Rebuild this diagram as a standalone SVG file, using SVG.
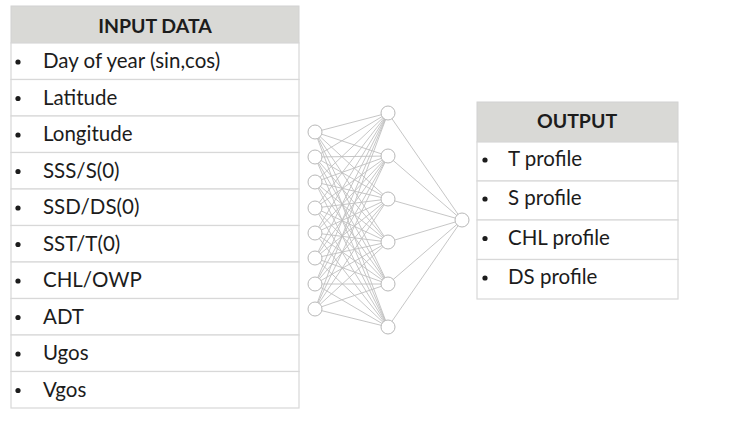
<svg xmlns="http://www.w3.org/2000/svg" width="732" height="427" viewBox="0 0 732 427">
<style>
.hdr{fill:#d9d9d6;stroke:#d2d2d2;stroke-width:1}
.row{fill:#ffffff;stroke:#d8d8d8;stroke-width:1.2}
.t{font-family:Lato,"Open Sans",sans-serif;font-size:20.5px;fill:#1c1c1c}
.h{font-family:Lato,"Open Sans",sans-serif;font-size:19.5px;font-weight:bold;fill:#1c1c1c;text-anchor:middle}
.b{fill:#1c1c1c}
.c{stroke:#bfbfbf;stroke-width:0.9;fill:none}
.n{fill:#ffffff;stroke:#b8b8b8;stroke-width:1}
</style>
<rect x="0" y="0" width="732" height="427" fill="#ffffff"/>
<g id="input-table">
<rect class="hdr" x="11" y="6" width="288" height="37"/>
<text class="h" x="155" y="32.5">INPUT DATA</text>
<rect class="row" x="11" y="43" width="288" height="36.5"/>
<rect class="row" x="11" y="79.5" width="288" height="36.5"/>
<rect class="row" x="11" y="116" width="288" height="36.5"/>
<rect class="row" x="11" y="152.5" width="288" height="36.5"/>
<rect class="row" x="11" y="189" width="288" height="36.5"/>
<rect class="row" x="11" y="225.5" width="288" height="36.5"/>
<rect class="row" x="11" y="262" width="288" height="36.5"/>
<rect class="row" x="11" y="298.5" width="288" height="36.5"/>
<rect class="row" x="11" y="335" width="288" height="36.5"/>
<rect class="row" x="11" y="371.5" width="288" height="36.5"/>
<g class="b">
<circle cx="18" cy="62" r="2.6"/><circle cx="18" cy="98.5" r="2.6"/><circle cx="18" cy="135" r="2.6"/><circle cx="18" cy="171.5" r="2.6"/><circle cx="18" cy="208" r="2.6"/><circle cx="18" cy="244.5" r="2.6"/><circle cx="18" cy="281" r="2.6"/><circle cx="18" cy="317.5" r="2.6"/><circle cx="18" cy="354" r="2.6"/><circle cx="18" cy="390.5" r="2.6"/>
</g>
<text class="t" x="43" y="68">Day of year (sin,cos)</text>
<text class="t" x="43" y="104.5">Latitude</text>
<text class="t" x="43" y="141">Longitude</text>
<text class="t" x="43" y="177.5">SSS/S(0)</text>
<text class="t" x="43" y="214">SSD/DS(0)</text>
<text class="t" x="43" y="250.5">SST/T(0)</text>
<text class="t" x="43" y="287">CHL/OWP</text>
<text class="t" x="43" y="323.5">ADT</text>
<text class="t" x="43" y="360">Ugos</text>
<text class="t" x="43" y="396.5">Vgos</text>
</g>
<g id="output-table">
<rect class="hdr" x="477" y="102" width="201" height="40"/>
<text class="h" x="577" y="128">OUTPUT</text>
<rect class="row" x="477" y="142" width="201" height="39"/>
<rect class="row" x="477" y="181" width="201" height="39"/>
<rect class="row" x="477" y="220" width="201" height="39.5"/>
<rect class="row" x="477" y="259.5" width="201" height="39.5"/>
<g class="b">
<circle cx="485" cy="160" r="2.6"/><circle cx="485" cy="199" r="2.6"/><circle cx="485" cy="238.5" r="2.6"/><circle cx="485" cy="278" r="2.6"/>
</g>
<text class="t" x="508" y="166">T profile</text>
<text class="t" x="508" y="205">S profile</text>
<text class="t" x="508" y="244.5">CHL profile</text>
<text class="t" x="508" y="284">DS profile</text>
</g>
<g id="connectors" class="c">
<path d="M315 132L388 113M315 132L388 156M315 132L388 199M315 132L388 242M315 132L388 284M315 132L388 327
M315 157L388 113M315 157L388 156M315 157L388 199M315 157L388 242M315 157L388 284M315 157L388 327
M315 182L388 113M315 182L388 156M315 182L388 199M315 182L388 242M315 182L388 284M315 182L388 327
M315 208L388 113M315 208L388 156M315 208L388 199M315 208L388 242M315 208L388 284M315 208L388 327
M315 233L388 113M315 233L388 156M315 233L388 199M315 233L388 242M315 233L388 284M315 233L388 327
M315 258L388 113M315 258L388 156M315 258L388 199M315 258L388 242M315 258L388 284M315 258L388 327
M315 284L388 113M315 284L388 156M315 284L388 199M315 284L388 242M315 284L388 284M315 284L388 327
M315 309L388 113M315 309L388 156M315 309L388 199M315 309L388 242M315 309L388 284M315 309L388 327
M388 113L462 220M388 156L462 220M388 199L462 220M388 242L462 220M388 284L462 220M388 327L462 220"/>
</g>
<g id="input-layer" class="n">
<circle cx="315" cy="132" r="7"/><circle cx="315" cy="157" r="7"/><circle cx="315" cy="182" r="7"/><circle cx="315" cy="208" r="7"/><circle cx="315" cy="233" r="7"/><circle cx="315" cy="258" r="7"/><circle cx="315" cy="284" r="7"/><circle cx="315" cy="309" r="7"/>
</g>
<g id="hidden-layer" class="n">
<circle cx="388" cy="113" r="7"/><circle cx="388" cy="156" r="7"/><circle cx="388" cy="199" r="7"/><circle cx="388" cy="242" r="7"/><circle cx="388" cy="284" r="7"/><circle cx="388" cy="327" r="7"/>
</g>
<g id="output-node" class="n">
<circle cx="462" cy="220" r="7"/>
</g>
</svg>
